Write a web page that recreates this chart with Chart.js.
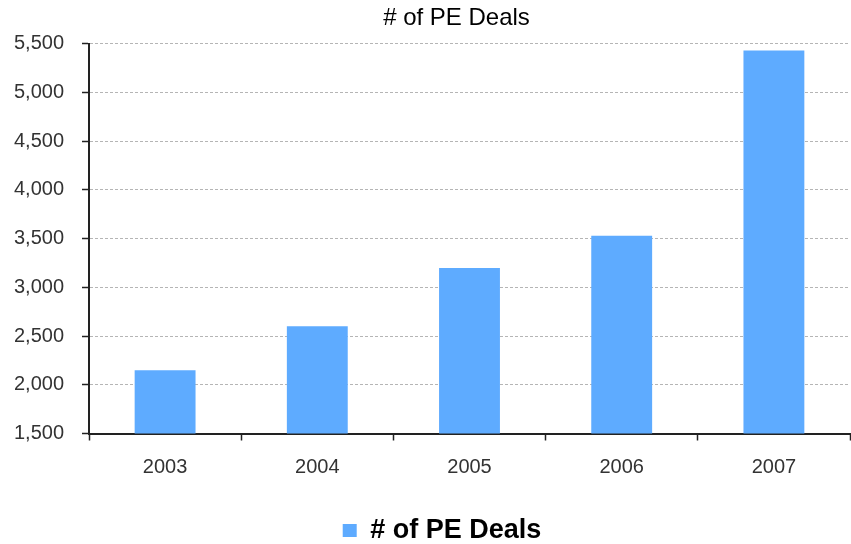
<!DOCTYPE html>
<html>
<head>
<meta charset="utf-8">
<script src="https://cdn.jsdelivr.net/npm/chart.js@4/dist/chart.umd.min.js"></script>
<style>
  html, body { margin: 0; padding: 0; background: #fff; }
  #wrap { width: 851px; height: 544px; }
</style>
</head>
<body>
<div id="wrap"><canvas id="dealsChart"></canvas></div>
<script>
// data
const years = ['2003', '2004', '2005', '2006', '2007'];
const peDeals = [2150, 2600, 3200, 3530, 5430];
const yMin = 1500;
const yMax = 5500;
const yStep = 500;

const font = 'Arial, "Liberation Sans", sans-serif';

// title and legend sit a bit right of the canvas centre, legend nudged down
const shiftBlocks = {
  id: 'shiftBlocks',
  afterLayout(chart) {
    if (chart.titleBlock) chart.titleBlock.left += 63;
    if (chart.legend) {
      chart.legend.left += 34;
      chart.legend.top += 10;
      chart.legend.bottom += 10;
    }
  }
};

const ctx = document.getElementById('dealsChart').getContext('2d');
new Chart(ctx, {
  type: 'bar',
  data: {
    labels: years,
    datasets: [{
      label: '# of PE Deals',
      data: peDeals,
      backgroundColor: '#5eabff',
      borderWidth: 0,
      categoryPercentage: 1,
      barPercentage: 0.4
    }]
  },
  plugins: [shiftBlocks],
  options: {
    responsive: true,
    maintainAspectRatio: false,
    animation: false,
    layout: { padding: { left: 0, right: 1, top: 0, bottom: 0 } },
    plugins: {
      title: {
        display: true,
        text: '# of PE Deals',
        color: '#000',
        font: { family: font, size: 24, weight: 'normal' },
        padding: { top: 4, bottom: 11 }
      },
      legend: {
        position: 'bottom',
        labels: {
          color: '#000',
          font: { family: font, size: 27, weight: 'bold' },
          boxWidth: 14,
          boxHeight: 13,
          padding: 1.5
        }
      },
      tooltip: { enabled: false }
    },
    scales: {
      x: {
        afterFit: s => { s.height = 72; },
        grid: {
          display: true,
          drawOnChartArea: false,
          drawTicks: true,
          tickLength: 7,
          tickColor: '#222',
          tickWidth: 1.5
        },
        border: { display: true, color: '#222', width: 2 },
        ticks: {
          color: '#333',
          padding: 15,
          font: { family: font, size: 20 }
        }
      },
      y: {
        min: yMin,
        max: yMax,
        afterFit: s => { s.width = 89; },
        grid: {
          color: '#b5b5b5',
          lineWidth: 1,
          tickLength: 7,
          tickColor: '#222',
          tickWidth: 1.5
        },
        border: { display: true, color: '#222', width: 2, dash: [3, 2] },
        ticks: {
          stepSize: yStep,
          color: '#333',
          padding: 18,
          font: { family: font, size: 20 },
          callback: v => v.toLocaleString('en-US')
        }
      }
    }
  }
});
</script>
</body>
</html>
